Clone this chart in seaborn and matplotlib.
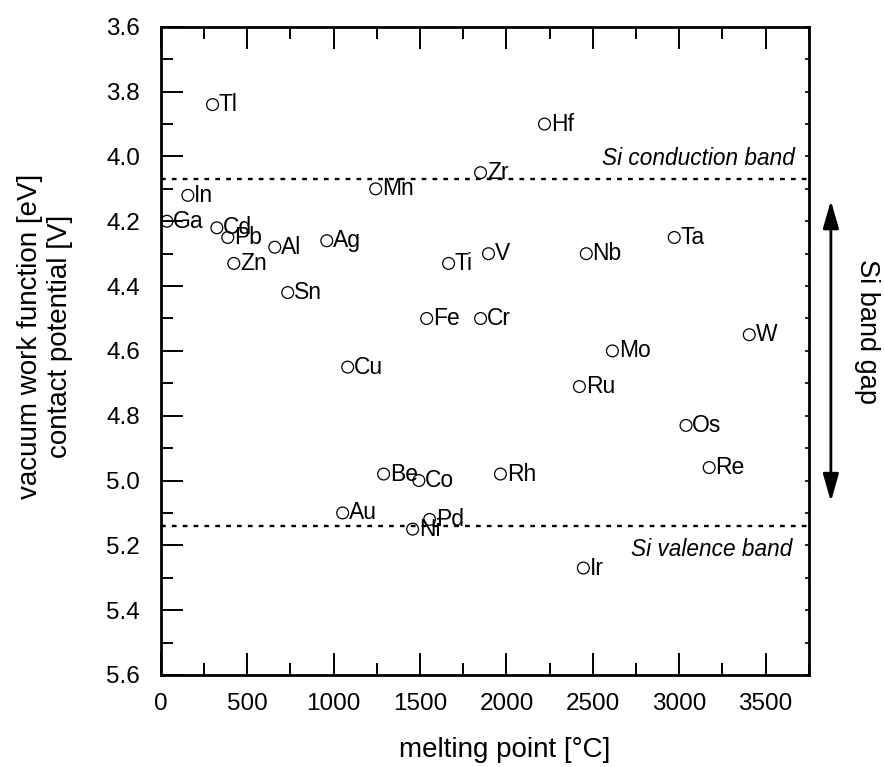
import matplotlib
matplotlib.use("Agg")
import matplotlib.pyplot as plt
import pandas as pd
import seaborn as sns
from matplotlib.ticker import MultipleLocator, FormatStrFormatter

# Elements, their melting points and vacuum work functions
elements = ["Tl", "Hf", "Zr", "In", "Mn", "Ga", "Cd", "Pb", "Zn", "Al", "Ag",
            "Sn", "Ti", "V", "Fe", "Cr", "Nb", "Ta", "W", "Mo", "Cu", "Ru",
            "Os", "Re", "Be", "Co", "Rh", "Au", "Pd", "Ni", "Ir"]
melting_point = [299, 2220, 1850, 156, 1243, 35, 324, 387, 422, 659, 960,
                 734, 1665, 1896, 1538, 1850, 2462, 2971, 3405, 2613, 1081, 2422,
                 3039, 3173, 1289, 1493, 1965, 1052, 1555, 1457, 2445]
work_function = [3.84, 3.90, 4.05, 4.12, 4.10, 4.20, 4.22, 4.25, 4.33, 4.28, 4.26,
                 4.42, 4.33, 4.30, 4.50, 4.50, 4.30, 4.25, 4.55, 4.60, 4.65, 4.71,
                 4.83, 4.96, 4.98, 5.00, 4.98, 5.10, 5.12, 5.15, 5.27]

# Silicon band edges and the extent of the band-gap arrow
conduction_band = 4.07
valence_band = 5.14
gap_arrow = [4.136, 5.065]

df = pd.DataFrame({"element": elements, "mp": melting_point, "phi": work_function})

sns.set_theme(style="white")
plt.rcParams["font.family"] = ["Liberation Sans", "DejaVu Sans"]
plt.rcParams.update({"text.color": "black", "axes.labelcolor": "black",
                     "xtick.color": "black", "ytick.color": "black"})

fig = plt.figure(figsize=(8.84, 7.67), dpi=100)
ax = fig.add_axes([0.182, 0.120, 0.733, 0.845])

sns.scatterplot(data=df, x="mp", y="phi", ax=ax, marker="o", s=72,
                facecolors="none", edgecolors="black", linewidths=0.9,
                legend=False, zorder=3)

for name, x, y in zip(elements, melting_point, work_function):
    ax.annotate(name, (x, y), xytext=(4.5, 0), textcoords="offset points",
                ha="left", va="center", fontsize=16.5, color="black")

# Band edges
for level in (conduction_band, valence_band):
    ax.axhline(level, color="black", lw=1.7, ls=(0, (2.0, 2.6)), zorder=1)

ax.text(0.978, 4.026, "Si conduction band", transform=ax.get_yaxis_transform(),
        ha="right", va="baseline", fontsize=16.3, style="italic")
ax.text(0.975, 5.232, "Si valence band", transform=ax.get_yaxis_transform(),
        ha="right", va="baseline", fontsize=16.3, style="italic")

# Band-gap arrow outside the right spine
ax.annotate("", xy=(1.034, gap_arrow[0]), xytext=(1.034, gap_arrow[1]),
            xycoords=("axes fraction", "data"), textcoords=("axes fraction", "data"),
            arrowprops=dict(arrowstyle="<|-|>,head_length=1.4,head_width=0.4",
                            color="black", lw=2, shrinkA=0, shrinkB=0),
            annotation_clip=False)
ax.text(1.089, 4.54, "Si band gap", transform=ax.get_yaxis_transform(),
        rotation=-90, ha="center", va="center", fontsize=19.5)

ax.set_xlim(0, 3750)
ax.set_ylim(5.6, 3.6)

ax.xaxis.set_major_locator(MultipleLocator(500))
ax.xaxis.set_minor_locator(MultipleLocator(250))
ax.yaxis.set_major_locator(MultipleLocator(0.2))
ax.yaxis.set_minor_locator(MultipleLocator(0.1))
ax.yaxis.set_major_formatter(FormatStrFormatter("%.1f"))

for side in ["left", "right", "top", "bottom"]:
    ax.spines[side].set_linewidth(2.0)
    ax.spines[side].set_color("black")

ax.tick_params(which="major", direction="in", length=16, width=1.4,
               left=True, bottom=True, top=True, right=True, pad=15)
ax.tick_params(which="minor", direction="in", length=8.5, width=1.4,
               left=True, bottom=True, top=True, right=True)
ax.tick_params(axis="y", labelsize=17.5)
ax.tick_params(axis="x", labelsize=17.5, pad=13)
# the right spine only carries short marks
for t in ax.yaxis.get_ticklines(minor=False)[1::2] + ax.yaxis.get_ticklines(minor=True)[1::2]:
    t.set_markersize(3)
    t.set_markeredgewidth(1.2)

ax.set_xlabel("melting point [°C]", fontsize=20, labelpad=10)
ax.xaxis.set_label_coords(0.531, -0.095)
ax.set_ylabel("vacuum work function [eV]\ncontact potential [V]", fontsize=20)
ax.yaxis.set_label_coords(-0.136, 0.523)

fig.savefig("out.png", dpi=100)
